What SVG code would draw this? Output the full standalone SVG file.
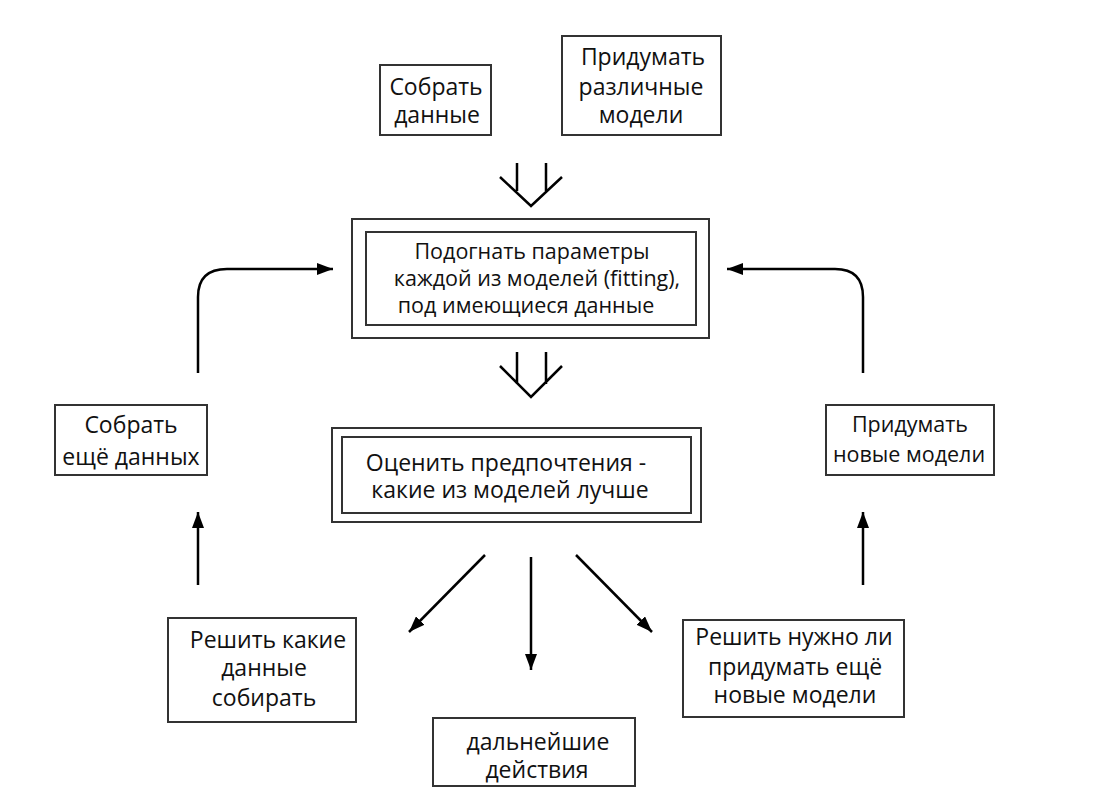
<svg xmlns="http://www.w3.org/2000/svg" width="1095" height="795" viewBox="0 0 1095 795">
<defs>
<style>
.box{fill:#fff;stroke:#333;stroke-width:2}
.t{font-family:"Open Sans","Noto Sans","DejaVu Sans",sans-serif;font-size:23px;fill:#111;text-anchor:middle}
.s{font-size:21.5px}
.c{fill:none;stroke:#000;stroke-width:2.5}
</style>
<marker id="ah2" markerWidth="16" markerHeight="12" refX="16" refY="6" orient="auto" markerUnits="userSpaceOnUse" viewBox="0 0 16 12">
<path d="M0,0 L16,6 L0,12 Z" fill="#000"/>
</marker>
</defs>
<rect width="1095" height="795" fill="#fff"/>
<g id="n1">
<rect class="box" x="380" y="65" width="111" height="70"/>
<text class="t" x="436" y="95">Собрать</text>
<text class="t" x="437" y="123">данные</text>
</g>
<g id="n2">
<rect class="box" x="562" y="36" width="159" height="99"/>
<text class="t" x="643" y="65">Придумать</text>
<text class="t" x="641" y="95">различные</text>
<text class="t" x="641" y="123">модели</text>
</g>
<g id="n3">
<rect class="box" x="352" y="219" width="357" height="119"/>
<rect class="box" x="366" y="232" width="330" height="93"/>
<text class="t s" x="532" y="259">Подогнать параметры</text>
<text class="t s" x="537" y="286">каждой из моделей (fitting),</text>
<text class="t s" x="526" y="313">под имеющиеся данные</text>
</g>
<g id="n4">
<rect class="box" x="332" y="428" width="369" height="94"/>
<rect class="box" x="342" y="437" width="349" height="76"/>
<text class="t" x="506" y="471">Оценить предпочтения -</text>
<text class="t" x="510" y="498">какие из моделей лучше</text>
</g>
<g id="n5">
<rect class="box" x="55" y="405" width="152" height="70"/>
<text class="t" x="131" y="433">Собрать</text>
<text class="t" x="131" y="465">ещё данных</text>
</g>
<g id="n6">
<rect class="box" x="826" y="405" width="168" height="70"/>
<text class="t s" x="910" y="432">Придумать</text>
<text class="t s" x="909" y="462">новые модели</text>
</g>
<g id="n7">
<rect class="box" x="168" y="618" width="188" height="104"/>
<text class="t" x="268" y="648">Решить какие</text>
<text class="t" x="264" y="676">данные</text>
<text class="t" x="264" y="706">собирать</text>
</g>
<g id="n8">
<rect class="box" x="683" y="620" width="221" height="97"/>
<text class="t" x="794" y="645">Решить нужно ли</text>
<text class="t" x="795" y="675">придумать ещё</text>
<text class="t" x="795" y="703">новые модели</text>
</g>
<g id="n9">
<rect class="box" x="433" y="718" width="202" height="68"/>
<text class="t" x="538" y="750">дальнейшие</text>
<text class="t" x="537" y="778">действия</text>
</g>
<g id="connectors">
<path class="c" d="M517,163 V191 M546,163 V191 M500,177 L531,206 L562,177"/>
<path class="c" d="M517,352 V384 M546,352 V384 M500,366 L531,397 L562,366"/>
<path class="c" d="M198,373 V297 Q198,269 227,269 H333" marker-end="url(#ah2)"/>
<path class="c" d="M863,373 V297 Q863,269 835,269 H727" marker-end="url(#ah2)"/>
<path class="c" d="M198,585 V512" marker-end="url(#ah2)"/>
<path class="c" d="M863,585 V512" marker-end="url(#ah2)"/>
<path class="c" d="M485,555 L409,632" marker-end="url(#ah2)"/>
<path class="c" d="M531,557 V670" marker-end="url(#ah2)"/>
<path class="c" d="M576,555 L652,632" marker-end="url(#ah2)"/>
</g>
</svg>
